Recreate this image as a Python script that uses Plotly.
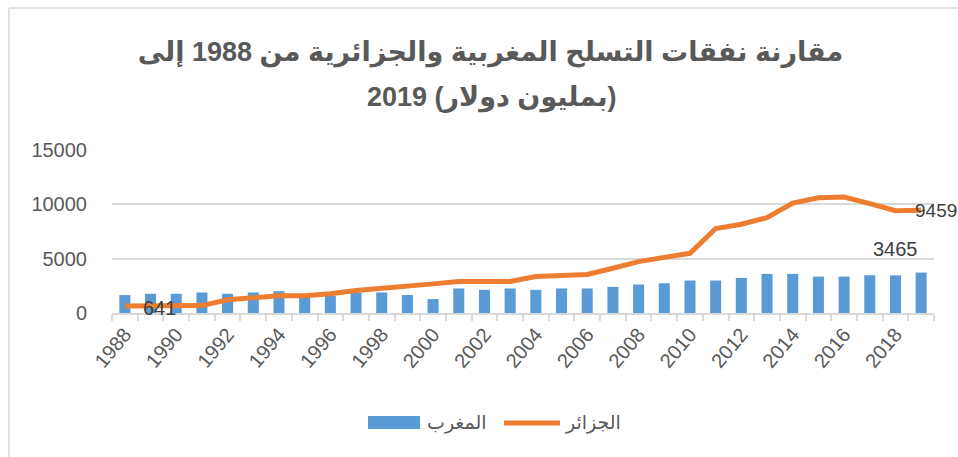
import plotly.graph_objects as go

years = list(range(1988, 2020))
morocco = [1650, 1770, 1770, 1890, 1770, 1890, 2010, 1550, 1600, 1890,
           1890, 1650, 1280, 2260, 2130, 2260, 2130, 2260, 2260, 2410,
           2620, 2740, 2990, 2990, 3230, 3600, 3600, 3350, 3350, 3475,
           3465, 3720]
algeria = [641, 650, 660, 680, 1220, 1370, 1590, 1590, 1770, 2070,
           2260, 2380, 2680, 2900, 2900, 2900, 3350, 3500, 3540, 4120,
           4730, 5120, 5490, 7770, 8170, 8780, 10120, 10610, 10670, 10060,
           9420, 9459]
tick_years = list(range(1988, 2020, 2))

title_line1 = "مقارنة نفقات التسلح المغربية والجزائرية من 1988 إلى"
title_line2 = "2019 (بمليون دولار)"
name_morocco = "المغرب"
name_algeria = "الجزائر"

font_family = "Arial, Liberation Sans, DejaVu Sans, sans-serif"
grey = "#595959"
blue = "#5B9BD5"
orange = "#ED7D31"

fig = go.Figure()

# Morocco bars
fig.add_trace(go.Bar(
    x=years,
    y=morocco,
    name=name_morocco,
    marker=dict(color=blue, line=dict(width=0)),
    width=0.43,
))

# Algeria line
fig.add_trace(go.Scatter(
    x=years,
    y=algeria,
    mode="lines",
    name=name_algeria,
    line=dict(color=orange, width=5),
))

# data labels
label_font = dict(family=font_family, size=20, color="#404040")
fig.add_annotation(x=years[0], y=algeria[0], text=str(algeria[0]), showarrow=False,
                   xanchor="left", yanchor="middle", xshift=16, yshift=-2, font=label_font)
fig.add_annotation(x=years[-1], y=algeria[-1], text=str(algeria[-1]), showarrow=False,
                   xanchor="left", yanchor="middle", xshift=-8, yshift=0,
                   font=dict(family=font_family, size=19, color="#404040"))
fig.add_annotation(x=years[-2], y=morocco[-2], text=str(morocco[-2]), showarrow=False,
                   xanchor="center", yanchor="middle", yshift=26, font=label_font)

# second title line
fig.add_annotation(xref="paper", yref="paper", x=0.462, y=(313 - 97) / 163,
                   text="<b>" + title_line2 + "</b>", showarrow=False,
                   xanchor="center", yanchor="middle",
                   font=dict(family=font_family, size=27, color=grey))

# legend drawn by hand (wide swatches like the original)
fig.add_shape(type="rect", xref="paper", yref="paper",
              x0=0.3114, x1=0.3747, y0=-0.7117, y1=-0.6319,
              fillcolor=blue, line=dict(width=0))
fig.add_annotation(xref="paper", yref="paper", x=0.3808, y=-0.6748,
                   text=name_morocco, showarrow=False, xanchor="left", yanchor="middle",
                   font=dict(family=font_family, size=19, color=grey))
fig.add_shape(type="line", xref="paper", yref="paper",
              x0=0.4769, x1=0.545, y0=-0.6748, y1=-0.6748,
              line=dict(color=orange, width=5))
fig.add_annotation(xref="paper", yref="paper", x=0.5487, y=-0.6748,
                   text=name_algeria, showarrow=False, xanchor="left", yanchor="middle",
                   font=dict(family=font_family, size=19, color=grey))

# chart border (left and top)
fig.add_shape(type="line", xref="paper", yref="paper",
              x0=-0.1253, x1=-0.1253, y0=-0.95, y1=1.871,
              line=dict(color="#D9D9D9", width=1.5))
fig.add_shape(type="line", xref="paper", yref="paper",
              x0=-0.1253, x1=1.1, y0=1.871, y1=1.871,
              line=dict(color="#D9D9D9", width=1.5))

fig.update_layout(
    width=958,
    height=457,
    margin=dict(l=112, r=24, t=150, b=144, autoexpand=False),
    paper_bgcolor="white",
    plot_bgcolor="white",
    font=dict(family=font_family, color=grey, size=19),
    title=dict(
        text="<b>" + title_line1 + "</b>",
        x=0.512,
        xanchor="center",
        y=1 - 52 / 457,
        yanchor="middle",
        font=dict(family=font_family, size=27, color=grey),
    ),
    showlegend=False,
    bargap=0.57,
)

fig.update_xaxes(
    range=[1987.5, 2019.5],
    tickmode="array",
    tickvals=tick_years,
    ticktext=[str(y) for y in tick_years],
    tickangle=-50,
    ticks="",
    showgrid=False,
    showline=True,
    linecolor="#D9D9D9",
    linewidth=1.5,
    zeroline=False,
    automargin=False,
    minor=dict(tick0=1987.5, dtick=1, ticks="outside", ticklen=6,
               tickcolor="#D9D9D9", tickwidth=1.5, showgrid=False),
    tickfont=dict(size=20, color=grey),
)

fig.update_yaxes(
    range=[0, 15000],
    dtick=5000,
    tickformat="d",
    showgrid=True,
    gridcolor="#D9D9D9",
    gridwidth=1.5,
    zeroline=False,
    showline=False,
    ticks="",
    automargin=False,
    ticklabelstandoff=24,
    tickfont=dict(size=20, color=grey),
)

# drop the default page margin so the figure fills the window exactly
fig.write_html("out.html", config={"displayModeBar": False},
               post_script="document.body.style.margin='0';")
